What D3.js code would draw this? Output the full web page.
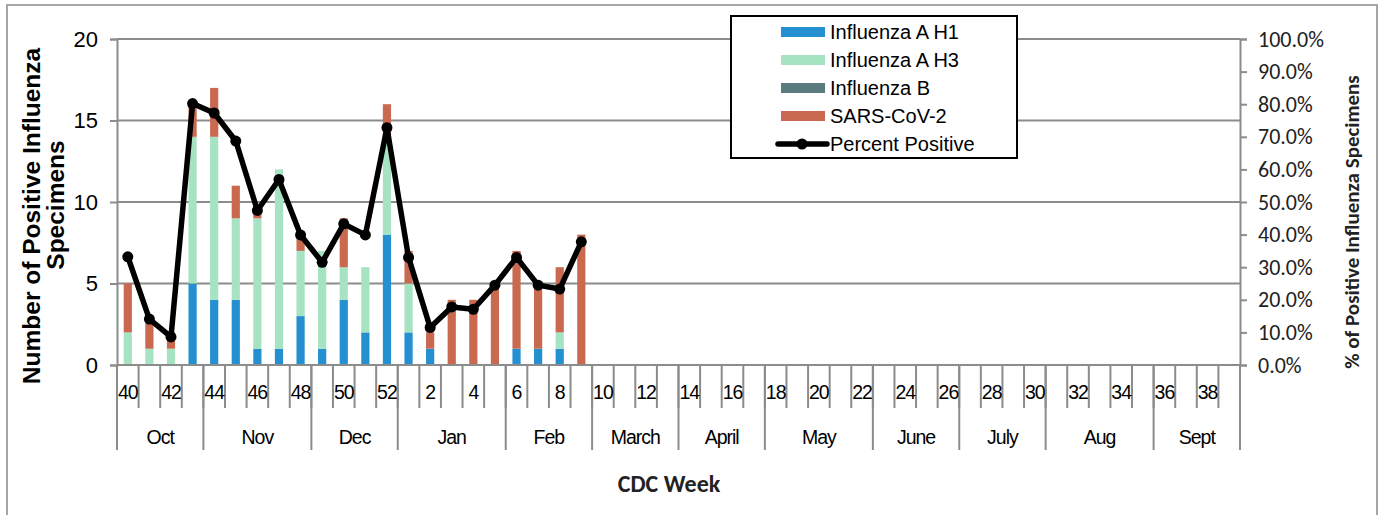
<!DOCTYPE html>
<html>
<head>
<meta charset="utf-8">
<script src="https://cdn.jsdelivr.net/npm/d3@7"></script>
<style>
  body { margin: 0; background: #fff; }
  svg { display: block; }
</style>
</head>
<body>
<svg id="chart" width="1378" height="515"></svg>
<script>
// --- data ---
const weeks = [40, 41, 42, 43, 44, 45, 46, 47, 48, 49, 50, 51, 52,
  1, 2, 3, 4, 5, 6, 7, 8, 9, 10, 11, 12, 13, 14, 15, 16, 17, 18, 19, 20,
  21, 22, 23, 24, 25, 26, 27, 28, 29, 30, 31, 32, 33, 34, 35, 36, 37, 38, 39];
const weeksWithData = [40, 41, 42, 43, 44, 45, 46, 47, 48, 49, 50, 51, 52, 1, 2, 3, 4, 5, 6, 7, 8, 9];
const fluAH1  = [0, 0, 0, 5, 4, 4, 1, 1, 3, 1, 4, 2, 8, 2, 1, 0, 0, 0, 1, 1, 1, 0];
const fluAH3  = [2, 1, 1, 9, 10, 5, 8, 11, 4, 6, 2, 4, 6, 3, 0, 0, 0, 0, 0, 0, 1, 0];
const fluB    = [0, 0, 0, 0, 0, 0, 0, 0, 0, 0, 0, 0, 0, 0, 0, 0, 0, 0, 0, 0, 0, 0];
const sarsCov2 = [3, 2, 1, 2, 3, 2, 0.5, 0, 1, 0, 3, 0, 2, 2, 1, 4, 4, 5, 6, 4, 4, 8];
const pctPositive = [33.2, 14.1, 8.6, 80.2, 77.3, 68.7, 47.4, 56.9, 39.9, 31.5, 43.3, 39.9, 72.8,
  33.0, 11.5, 17.8, 17.1, 24.5, 33.0, 24.5, 23.3, 37.8];
const months = ["Oct", "Nov", "Dec", "Jan", "Feb", "March", "April", "May", "June", "July", "Aug", "Sept"];
const weeksPerMonth = [4, 5, 4, 5, 4, 4, 4, 5, 4, 4, 5, 4];
const leftTicks = [0, 5, 10, 15, 20];
const rightTicks = [0, 10, 20, 30, 40, 50, 60, 70, 80, 90, 100];

const seriesNames = ["Influenza A H1", "Influenza A H3", "Influenza B", "SARS-CoV-2"];
const seriesKeys = ["h1", "h3", "b", "sars"];
const colors = ["#2490d0", "#a6e3c2", "#5a7c80", "#c96a50"];

const ARIAL = "'Liberation Sans', Arial, sans-serif";
const CALIBRI = "Carlito, Lato, sans-serif";
const GRID = "#8c8c8c";

const rows = weeksWithData.map((w, i) => ({
  week: w, h1: fluAH1[i], h3: fluAH3[i], b: fluB[i], sars: sarsCov2[i], pct: pctPositive[i]
}));

const svg = d3.select("#chart");

// outer frame
svg.append("rect")
  .attr("x", 7).attr("y", 5).attr("width", 1370).attr("height", 530)
  .attr("fill", "none").attr("stroke", "#a6a6a6").attr("stroke-width", 2);

const plot = { left: 117, right: 1240, top: 39, bottom: 365 };

const x = d3.scaleBand()
  .domain(weeks)
  .range([plot.left, plot.right])
  .paddingInner(0.62)
  .paddingOuter(0.31);
const step = x.step();

const y = d3.scaleLinear().domain([0, 20]).range([plot.bottom, plot.top]);
const y2 = d3.scaleLinear().domain([0, 100]).range([plot.bottom, plot.top]);

// gridlines
svg.append("g")
  .selectAll("line")
  .data(leftTicks.filter(d => d > 0))
  .join("line")
  .attr("x1", plot.left).attr("x2", plot.right)
  .attr("y1", d => y(d)).attr("y2", d => y(d))
  .attr("stroke", GRID).attr("stroke-width", 2);

// left axis
const yAxis = svg.append("g")
  .attr("transform", `translate(${plot.left},0)`)
  .call(d3.axisLeft(y).tickValues(leftTicks).tickSize(7).tickPadding(12));
yAxis.select(".domain").attr("stroke", GRID).attr("stroke-width", 2);
yAxis.selectAll(".tick line").attr("stroke", GRID).attr("stroke-width", 2);
yAxis.selectAll("text")
  .style("font-family", ARIAL).style("font-size", "22px").attr("fill", "#000");

// right axis
const y2Axis = svg.append("g")
  .attr("transform", `translate(${plot.right},0)`)
  .call(d3.axisRight(y2).tickValues(rightTicks).tickSize(7).tickPadding(11)
    .tickFormat(d => d.toFixed(1) + "%"));
y2Axis.select(".domain").attr("stroke", GRID).attr("stroke-width", 2);
y2Axis.selectAll(".tick line").attr("stroke", GRID).attr("stroke-width", 2);
y2Axis.selectAll("text")
  .style("font-family", CALIBRI).style("font-size", "22px").attr("fill", "#222");

// stacked bars
const stack = d3.stack().keys(seriesKeys)(rows);
svg.append("g")
  .selectAll("g")
  .data(stack)
  .join("g")
  .attr("fill", (d, i) => colors[i])
  .selectAll("rect")
  .data(d => d)
  .join("rect")
  .attr("x", d => x(d.data.week))
  .attr("width", x.bandwidth())
  .attr("y", d => y(d[1]))
  .attr("height", d => y(d[0]) - y(d[1]));

// x axis baseline
svg.append("line")
  .attr("x1", plot.left).attr("x2", plot.right)
  .attr("y1", plot.bottom).attr("y2", plot.bottom)
  .attr("stroke", GRID).attr("stroke-width", 2);

// week boundary ticks
const edges = weeks.map(w => x(w) - step * 0.31);
svg.append("g")
  .selectAll("line")
  .data(edges)
  .join("line")
  .attr("x1", d => d).attr("x2", d => d)
  .attr("y1", plot.bottom).attr("y2", 408)
  .attr("stroke", GRID).attr("stroke-width", 2);

// month boundaries
let acc = 0;
const monthSpans = months.map((m, i) => {
  const start = acc;
  acc += weeksPerMonth[i];
  return { name: m, start: start, end: acc };
});
const edgeAt = k => plot.left + k * step;
svg.append("g")
  .selectAll("line")
  .data([0].concat(monthSpans.map(d => d.end)))
  .join("line")
  .attr("x1", d => edgeAt(d)).attr("x2", d => edgeAt(d))
  .attr("y1", plot.bottom).attr("y2", 450)
  .attr("stroke", GRID).attr("stroke-width", 2);

// week labels (every other week)
svg.append("g")
  .selectAll("text")
  .data(weeks.filter((w, i) => i % 2 === 0))
  .join("text")
  .attr("x", d => x(d) + x.bandwidth() / 2)
  .attr("y", 399)
  .attr("text-anchor", "middle")
  .style("font-family", ARIAL).style("font-size", "19.5px")
  .style("letter-spacing", "-1px")
  .text(d => d);

// month labels
svg.append("g")
  .selectAll("text")
  .data(monthSpans)
  .join("text")
  .attr("x", d => (edgeAt(d.start) + edgeAt(d.end)) / 2)
  .attr("y", 444)
  .attr("text-anchor", "middle")
  .style("font-family", ARIAL).style("font-size", "19.5px")
  .style("letter-spacing", "-1px")
  .text(d => d.name);

// percent positive line
const line = d3.line()
  .x(d => x(d.week) + x.bandwidth() / 2)
  .y(d => y2(d.pct));
svg.append("path")
  .datum(rows)
  .attr("d", line)
  .attr("fill", "none")
  .attr("stroke", "#000")
  .attr("stroke-width", 5.5)
  .attr("stroke-linejoin", "round");
svg.append("g")
  .selectAll("circle")
  .data(rows)
  .join("circle")
  .attr("cx", d => x(d.week) + x.bandwidth() / 2)
  .attr("cy", d => y2(d.pct))
  .attr("r", 5.5)
  .attr("fill", "#000");

// axis titles
const leftTitle = svg.append("g").style("font-family", ARIAL).style("font-weight", "bold")
  .style("font-size", "24.5px");
leftTitle.append("text")
  .attr("transform", "translate(40,216) rotate(-90)")
  .attr("text-anchor", "middle")
  .text("Number of Positive Influenza");
leftTitle.append("text")
  .attr("transform", "translate(64,205) rotate(-90)")
  .attr("text-anchor", "middle")
  .text("Specimens");

svg.append("text")
  .attr("transform", "translate(1359,222) rotate(-90)")
  .attr("text-anchor", "middle")
  .style("font-family", CALIBRI).style("font-weight", "bold").style("font-size", "21px")
  .attr("fill", "#222")
  .text("% of Positive Influenza Specimens");

svg.append("text")
  .attr("x", 669).attr("y", 492)
  .attr("text-anchor", "middle")
  .style("font-family", CALIBRI).style("font-weight", "bold").style("font-size", "24px")
  .attr("fill", "#222")
  .text("CDC Week");

// legend
const legend = svg.append("g").attr("transform", "translate(731,16)");
legend.append("rect")
  .attr("width", 286).attr("height", 142)
  .attr("fill", "#fff").attr("stroke", "#000").attr("stroke-width", 2);
const items = seriesNames.concat(["Percent Positive"]);
const li = legend.selectAll("g.item")
  .data(items)
  .join("g")
  .attr("class", "item")
  .attr("transform", (d, i) => `translate(0,${16 + i * 28})`);
li.filter((d, i) => i < 4)
  .append("rect")
  .attr("x", 50).attr("y", -5).attr("width", 44).attr("height", 10)
  .attr("fill", (d, i) => colors[i]);
const lp = li.filter((d, i) => i === 4);
lp.append("line")
  .attr("x1", 47).attr("x2", 96).attr("y1", 0).attr("y2", 0)
  .attr("stroke", "#000").attr("stroke-width", 5.5).attr("stroke-linecap", "round");
lp.append("circle").attr("cx", 71).attr("cy", 0).attr("r", 5.5).attr("fill", "#000");
li.append("text")
  .attr("x", 99).attr("y", 7)
  .style("font-family", ARIAL).style("font-size", "20px")
  .text(d => d);
</script>
</body>
</html>
